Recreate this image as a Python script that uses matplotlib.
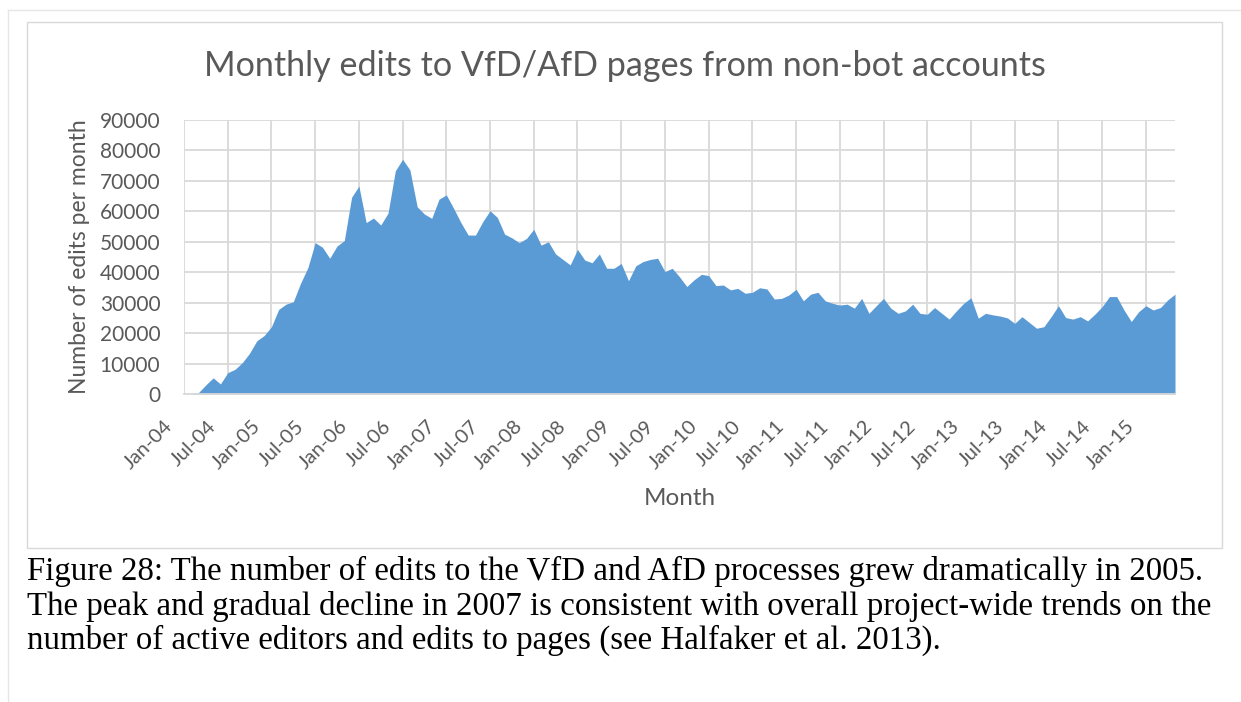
import matplotlib
matplotlib.use("Agg")
import matplotlib.pyplot as plt
from matplotlib.lines import Line2D
from matplotlib.patches import Rectangle
import matplotlib.transforms as mtransforms

# ---- data ----
month_index = list(range(137))  # Jan-04 .. May-15
edits = [
    0, 0, 500, 3000, 5300, 3300, 7000, 8100, 10300, 13400, 17500, 19200,
    22100, 27800, 29500, 30300, 36400, 41500, 49700, 48200, 44600, 48600, 50400, 64600,
    68300, 56300, 57800, 55500, 59400, 73300, 77100, 73600, 61500, 59100, 57700, 64000,
    65400, 61000, 56300, 52200, 52200, 56600, 60200, 58000, 52500, 51300, 49700, 51100,
    54100, 48900, 50000, 46000, 44200, 42400, 47500, 44000, 43100, 46000, 41300, 41300,
    42900, 37200, 42100, 43500, 44200, 44600, 40200, 41300, 38500, 35300, 37500, 39300,
    38900, 35600, 35800, 34200, 34700, 33100, 33400, 34900, 34500, 31200, 31400, 32500,
    34400, 30600, 32800, 33400, 30600, 29800, 29200, 29500, 28200, 31400, 26500, 29000,
    31400, 28200, 26500, 27300, 29500, 26500, 26200, 28400, 26500, 24600, 27300, 29800,
    31600, 24900, 26500, 26000, 25600, 25000, 23200, 25400, 23500, 21600, 22100, 25400,
    29000, 25100, 24600, 25400, 24000, 26200, 28700, 32000, 32000, 27600, 23800, 27000,
    29000, 27600, 28400, 30900, 32800,
]
tick_positions = list(range(0, 133, 6))
tick_labels = ["Jan-04", "Jul-04", "Jan-05", "Jul-05", "Jan-06", "Jul-06", "Jan-07",
               "Jul-07", "Jan-08", "Jul-08", "Jan-09", "Jul-09", "Jan-10", "Jul-10",
               "Jan-11", "Jul-11", "Jan-12", "Jul-12", "Jan-13", "Jul-13", "Jan-14",
               "Jul-14", "Jan-15"]
y_ticks = list(range(0, 90001, 10000))

title = "Monthly edits to VfD/AfD pages from non-bot accounts"
ylabel = "Number of edits per month"
xlabel = "Month"
caption = ["Figure 28: The number of edits to the VfD and AfD processes grew dramatically in 2005.",
           "The peak and gradual decline in 2007 is consistent with overall project-wide trends on the",
           "number of active editors and edits to pages (see Halfaker et al. 2013)."]

# ---- style ----
W, H = 1241, 702
FONT = "Lato"
TXT = "#595959"
GRID = "#d9d9d9"
FILL = "#5b9bd5"

fig = plt.figure(figsize=(W / 100, H / 100), dpi=100)
fig.patch.set_facecolor("white")

# document frame lines and chart border
fig.add_artist(Line2D([8 / W, 1], [1 - 10 / H, 1 - 10 / H], color="#e6e6e6", lw=1))
fig.add_artist(Line2D([8 / W, 8 / W], [0, 1 - 10 / H], color="#e6e6e6", lw=1))
fig.add_artist(Rectangle((27 / W, 1 - 548 / H), (1222 - 27) / W, (548 - 22) / H,
                         fill=False, edgecolor=GRID, lw=1))

L, R, T, B = 184, 1175, 120, 394
ax = fig.add_axes([L / W, 1 - B / H, (R - L) / W, (B - T) / H])
ax.fill_between(month_index, edits, 0, color=FILL, lw=0, zorder=3)
ax.set_xlim(0, 136)
ax.set_ylim(0, 90000)
ax.set_yticks(y_ticks)
ax.set_yticklabels([str(v) for v in y_ticks])
ax.set_xticks(tick_positions)
ax.set_xticklabels(tick_labels)
ax.grid(True, color=GRID, lw=1.3, zorder=0)
ax.set_axisbelow(True)
for s in ["top", "right", "left"]:
    ax.spines[s].set_visible(False)
ax.spines["bottom"].set_color(GRID)
ax.spines["bottom"].set_linewidth(1.3)
ax.spines["bottom"].set_zorder(4)
ax.tick_params(axis="both", length=0, colors=TXT)
ax.tick_params(axis="y", pad=17, labelsize=15)
ax.tick_params(axis="x", pad=17, labelsize=14.5)
for lab in ax.get_yticklabels():
    lab.set_fontfamily(FONT)
offset = mtransforms.ScaledTranslation(-20 / 100, 0, fig.dpi_scale_trans)
for lab in ax.get_xticklabels():
    lab.set_fontfamily(FONT)
    lab.set_rotation(45)
    lab.set_ha("right")
    lab.set_va("top")
    lab.set_rotation_mode("anchor")
    lab.set_transform(lab.get_transform() + offset)

ax.set_ylabel(ylabel, fontsize=16.5, color=TXT, family=FONT, va="center")
ax.yaxis.set_label_coords((80 - L) / (R - L), 0.5)
ax.set_xlabel(xlabel, fontsize=17.5, color=TXT, family=FONT, va="center")
ax.xaxis.set_label_coords((680 - L) / (R - L), (B - 498) / (B - T))

fig.text(625 / W, 1 - 66 / H, title, ha="center", va="center", fontsize=24.6,
         color=TXT, family=FONT)

for i, line in enumerate(caption):
    fig.text(27 / W, 1 - (580 + 34.5 * i) / H, line, ha="left", va="baseline",
             fontsize=23.7, color="black", family="Liberation Serif")

fig.savefig("out.png", dpi=100)
